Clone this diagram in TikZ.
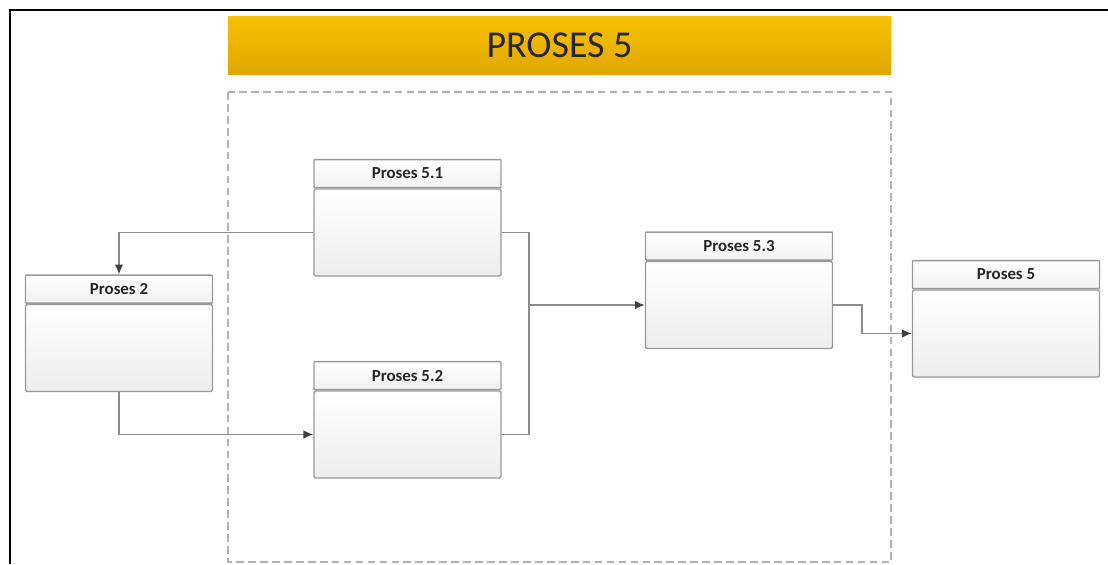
\documentclass[tikz,border=0pt]{standalone}
\usepackage{fontspec}
\setmainfont{Carlito}
\usetikzlibrary{arrows.meta,positioning}

\definecolor{bannertop}{RGB}{247,192,0}
\definecolor{bannerbot}{RGB}{224,168,0}

\tikzset{
  banner/.style={top color=bannertop, bottom color=bannerbot, minimum width=16.575cm, minimum height=1.425cm, inner sep=0pt, font=\fontsize{27}{30}\selectfont, text=black!85},
  groupbox/.style={draw=gray!60, line width=0.9pt, dash pattern=on 5.5pt off 3pt},
  procbody/.style={draw=black!40, line width=1pt, rounded corners=1pt, top color=white, bottom color=gray!14, minimum width=4.675cm, minimum height=2.175cm, inner sep=0pt},
  prochead/.style={draw=black!40, line width=1pt, rounded corners=0.5pt, top color=white, bottom color=gray!10, minimum width=4.675cm, minimum height=0.7cm, inner sep=0pt, anchor=south, font=\bfseries\fontsize{12}{14}\selectfont, text=black!85},
  link/.style={draw=black!45, line width=1pt},
  linkarrow/.style={link, -{Latex[length=7pt,width=6pt,color=black!75]}}
}

\begin{document}
\begin{tikzpicture}[x=0.025cm, y=-0.025cm]
	\useasboundingbox (0,0) rectangle (1108,564);
	
	% frame
	\draw[line width=1.5pt] (1108,10) -- (10,10) -- (10,564);
	
	\node[banner] (title) at (559.5,45.5) {PROSES 5};
	\draw[groupbox] (228,92) rectangle (891,562);
	
	% process boxes: body, then header on top
	\foreach \name/\x/\y/\txt in {p2/119/348/Proses 2, p51/407.5/232.5/Proses 5.1, p52/407.5/434.5/Proses 5.2, p53/739/305/Proses 5.3, p5/1006/333.5/Proses 5}
	{
		\node[procbody] (\name) at (\x,\y) {};
		\node[prochead] (\name h) at (\name.north) {\txt};
	}
	
	\coordinate (join) at (529,305);
	\coordinate (bend) at (862,305);
	
	\draw[linkarrow] (p51.west) -| (p2h.north);
	\draw[linkarrow] (p2.south) |- (p52.west);
	\draw[link] (p51.east) -| (join);
	\draw[link] (p52.east) -| (join);
	\draw[linkarrow] (join) -- (p53.west);
	\draw[linkarrow] (p53.east) -- (bend) |- (p5.west);
\end{tikzpicture}
\end{document}
